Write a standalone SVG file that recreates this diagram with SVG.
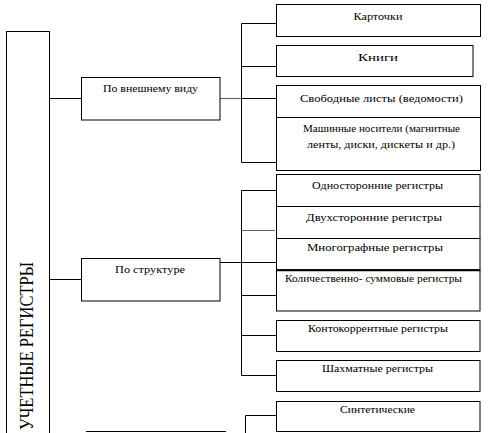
<svg xmlns="http://www.w3.org/2000/svg" width="497" height="433" viewBox="0 0 497 433">
<style>
.box{fill:#fff;stroke:#000;stroke-width:1}
.t{font-family:"Liberation Serif","DejaVu Serif",serif;font-size:10.5px;fill:#000;text-anchor:middle}
.c{fill:none;stroke:#000;stroke-width:1}
.g{fill:none;stroke:#666;stroke-width:1.2}
</style>
<rect width="497" height="433" fill="#fff"/>
<g id="connectors">
<path class="c" d="M49.5 98.5H81"/>
<path class="g" d="M220 98.5H241.5"/>
<path class="c" d="M241.5 23.5V162.5M241.5 23.5H276M241.5 66.5H276M241.5 98.5H276M241.5 162.5H276"/>
<path class="c" d="M49.5 279.5H81"/>
<path class="c" d="M220 262.5H276"/>
<path class="c" d="M241.5 190.5V375.5M241.5 190.5H276M241.5 295.5H276M241.5 335.5H276M241.5 375.5H276"/>
<path class="g" d="M241.5 230.5H275"/>
<path class="c" d="M245.5 415.5V433M245.5 415.5H278"/>
</g>
<g id="root">
<rect class="box" x="6.5" y="31.5" width="43" height="420"/>
<text class="t" transform="translate(33,430) rotate(-90)" x="0" y="0" style="font-size:18px;text-anchor:start" textLength="168" lengthAdjust="spacingAndGlyphs">УЧЕТНЫЕ РЕГИСТРЫ</text>
</g>
<g id="vid">
<rect class="box" x="81.5" y="77.5" width="138.5" height="42.5"/>
<text class="t" x="150.5" y="92" textLength="95" lengthAdjust="spacingAndGlyphs">По внешнему виду</text>
</g>
<g id="struct">
<rect class="box" x="81.5" y="258.5" width="138.5" height="42.5"/>
<text class="t" x="150" y="273" textLength="70" lengthAdjust="spacingAndGlyphs">По  структуре</text>
</g>
<g id="kartochki">
<rect class="box" x="276.5" y="4.5" width="204" height="32"/>
<text class="t" x="378" y="20" textLength="49" lengthAdjust="spacingAndGlyphs">Карточки</text>
</g>
<g id="knigi">
<rect class="box" x="276.5" y="45.5" width="196.5" height="31"/>
<text class="t" x="378" y="61" textLength="40" lengthAdjust="spacingAndGlyphs">Книги</text>
</g>
<g id="svobodnye">
<rect class="box" x="276.5" y="85.5" width="204" height="32"/>
<text class="t" x="381.5" y="101.5" textLength="163" lengthAdjust="spacingAndGlyphs">Свободные  листы (ведомости)</text>
</g>
<g id="mashinnye">
<rect class="box" x="276.5" y="117.5" width="204" height="53"/>
<text class="t" x="381.5" y="132" textLength="157" lengthAdjust="spacingAndGlyphs">Машинные носители (магнитные</text>
<text class="t" x="381" y="147.5" textLength="148" lengthAdjust="spacingAndGlyphs">ленты, диски, дискеты и др.)</text>
</g>
<g id="odnostor">
<rect class="box" x="276.5" y="174.5" width="203.5" height="32"/>
<text class="t" x="377.5" y="188.5" textLength="131" lengthAdjust="spacingAndGlyphs">Односторонние регистры</text>
</g>
<g id="dvuhstor">
<rect class="box" x="276.5" y="206.5" width="203.5" height="32"/>
<text class="t" x="374" y="221" textLength="136" lengthAdjust="spacingAndGlyphs">Двухсторонние регистры</text>
</g>
<g id="mnogograf">
<rect class="box" x="276.5" y="238.5" width="203.5" height="31.5"/>
<text class="t" x="375" y="251" textLength="136" lengthAdjust="spacingAndGlyphs">Многографные  регистры</text>
</g>
<g id="kolich">
<rect class="box" x="276.5" y="270" width="203.5" height="41"/>
<path d="M276.5 270.2H480" stroke="#000" stroke-width="2"/>
<text class="t" x="373.5" y="282" textLength="177" lengthAdjust="spacingAndGlyphs">Количественно-  суммовые регистры</text>
</g>
<g id="kontokor">
<rect class="box" x="276.5" y="320.5" width="203.5" height="31"/>
<text class="t" x="378" y="332" textLength="140" lengthAdjust="spacingAndGlyphs">Контокоррентные регистры</text>
</g>
<g id="shahmat">
<rect class="box" x="276.5" y="360.5" width="203.5" height="31"/>
<text class="t" x="377.5" y="372" textLength="111" lengthAdjust="spacingAndGlyphs">Шахматные регистры</text>
</g>
<g id="sintet">
<rect class="box" x="276.5" y="401.5" width="203.5" height="30"/>
<text class="t" x="377.5" y="413" textLength="75" lengthAdjust="spacingAndGlyphs">Синтетические</text>
</g>
<g id="bottom">
<path class="c" d="M86 431.5H226"/>
</g>
</svg>
